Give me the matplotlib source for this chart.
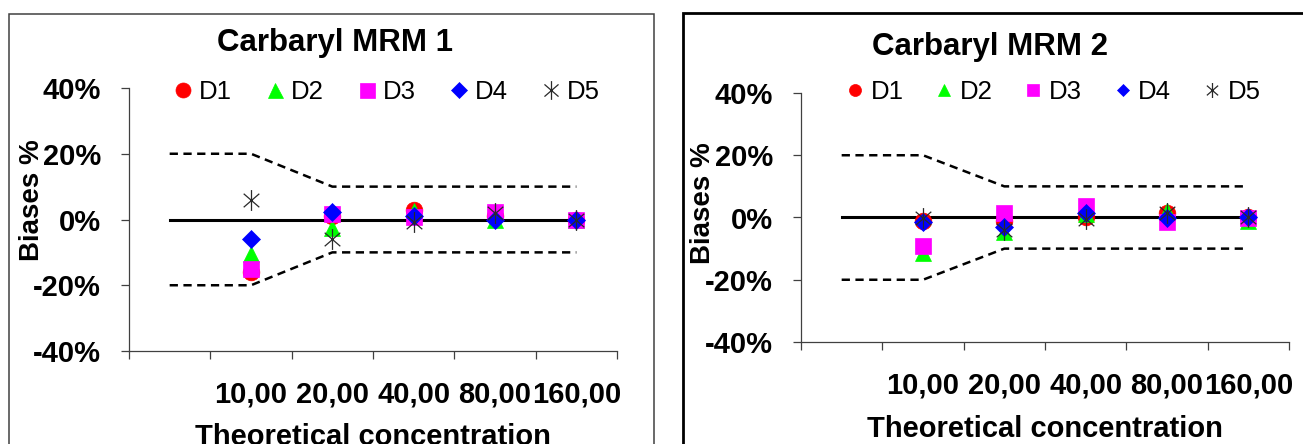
import matplotlib
matplotlib.use("Agg")
import numpy as np
import matplotlib.pyplot as plt
from matplotlib.path import Path
from matplotlib.patches import Rectangle

plt.rcParams['font.family'] = ['Liberation Sans', 'DejaVu Sans']

# ---------------- data ----------------
categories = ["", "10,00", "20,00", "40,00", "80,00", "160,00"]
series_names = ["D1", "D2", "D3", "D4", "D5"]
y_ticks = [-40, -20, 0, 20, 40]
y_tick_labels = ["-40%", "-20%", "0%", "20%", "40%"]
upper_limit = [20, 20, 10, 10, 10, 10]
lower_limit = [-20, -20, -10, -10, -10, -10]
zero_line = [0, 0, 0, 0, 0, 0]

titles = ["Carbaryl MRM 1", "Carbaryl MRM 2"]

mrm1_d1 = [np.nan, -16.0, 1.0, 3.0, 1.0, 0.0]
mrm1_d2 = [np.nan, -10.5, -2.5, 2.5, 0.0, 0.0]
mrm1_d3 = [np.nan, -15.0, 1.7, 0.8, 2.2, -0.3]
mrm1_d4 = [np.nan, -6.0, 2.2, 1.2, -0.3, 0.0]
mrm1_d5 = [np.nan, 6.0, -6.0, -0.8, 2.0, 0.0]

mrm2_d1 = [np.nan, -1.0, -1.0, 0.0, 1.3, 0.0]
mrm2_d2 = [np.nan, -11.5, -4.5, 1.0, 2.0, -1.0]
mrm2_d3 = [np.nan, -9.2, 1.6, 3.6, -1.5, -0.3]
mrm2_d4 = [np.nan, -1.5, -3.2, 1.4, -0.2, 0.0]
mrm2_d5 = [np.nan, -0.3, -3.9, -0.6, 1.4, 0.0]

panels = [
    [mrm1_d1, mrm1_d2, mrm1_d3, mrm1_d4, mrm1_d5],
    [mrm2_d1, mrm2_d2, mrm2_d3, mrm2_d4, mrm2_d5],
]

# ---------------- styles ----------------
star = Path([(0, -1), (0, 1), (-0.75, -0.65), (0.75, 0.65), (-0.75, 0.65), (0.75, -0.65)],
            [Path.MOVETO, Path.LINETO, Path.MOVETO, Path.LINETO, Path.MOVETO, Path.LINETO])
styles = [
    dict(marker='o', color='#FF0000', ms=12),
    dict(marker='^', color='#00FF00', ms=12),
    dict(marker='s', color='#FF00FF', ms=12),
    dict(marker='D', color='#0000FF', ms=9),
    dict(marker=star, color='#2a2a2a', ms=15),
]

W, H = 1303, 444
fig = plt.figure(figsize=(W / 100, H / 100), dpi=100)

def px_rect(x0, y0, x1, y1, lw, col):
    r = Rectangle((x0 / W, 1 - y1 / H), (x1 - x0) / W, (y1 - y0) / H,
                  transform=fig.transFigure, fill=False, lw=lw, ec=col, zorder=0)
    fig.add_artist(r)

px_rect(9, 14, 654, 470, 1.1, '#404040')
px_rect(683, 13, 1320, 470, 2.0, '#000000')

axes_px = [(129, 88, 617, 351), (801, 93, 1289, 342)]
title_pos = [(335, 43), (990, 47)]
ylabel_pos = [(45, 200), (716, 203)]
xlabel_top = [423, 415]
legend_y = [92, 92]
legend_colsp = [1.30, 1.19]
legend_mscale = [0.9, 0.72]

x = np.arange(len(categories))
TICK_FS = 21

for i, (l, t, r, b) in enumerate(axes_px):
    ax = fig.add_axes([l / W, 1 - b / H, (r - l) / W, (b - t) / H])
    ax.set_xlim(-0.5, len(categories) - 0.5)
    ax.set_ylim(-40, 40)

    ax.plot(x, upper_limit, color='black', lw=1.8, ls=(0, (3.3, 2.2)), zorder=2)
    ax.plot(x, lower_limit, color='black', lw=1.8, ls=(0, (3.3, 2.2)), zorder=2)
    ax.plot(x, zero_line, color='black', lw=2.2, zorder=2)

    for name, vals, st in zip(series_names, panels[i], styles):
        if st['marker'] is star:
            ax.plot(x, vals, ls='none', marker=star, ms=st['ms'], mfc='none',
                    mec=st['color'], mew=0.9, label=name, zorder=3)
        else:
            ax.plot(x, vals, ls='none', marker=st['marker'], ms=st['ms'],
                    mfc=st['color'], mec=st['color'], mew=0.5, label=name, zorder=3)

    for s in ['top', 'right']:
        ax.spines[s].set_visible(False)
    for s in ['left', 'bottom']:
        ax.spines[s].set_color('#404040')
        ax.spines[s].set_linewidth(0.9)

    ax.set_yticks(y_ticks)
    ax.set_yticklabels(y_tick_labels, fontsize=TICK_FS, fontweight='bold')
    ax.tick_params(axis='y', direction='out', length=6, width=0.9, color='#404040', pad=14)

    ax.set_xticks(np.arange(len(categories) + 1) - 0.5)
    ax.set_xticklabels([])
    ax.tick_params(axis='x', which='major', direction='out', length=6, width=0.9, color='#404040')
    ax.set_xticks(x, minor=True)
    ax.set_xticklabels(categories, minor=True, fontsize=TICK_FS, fontweight='bold')
    ax.tick_params(axis='x', which='minor', length=0, pad=21)

    ax.set_xlabel("Theoretical concentration", fontsize=21, fontweight='bold')
    ax.xaxis.set_label_coords(0.5, (b - xlabel_top[i]) / (b - t))
    ax.xaxis.label.set_va('top')

    ax.set_ylabel("Biases %", fontsize=20, fontweight='bold')
    ylx, yly = ylabel_pos[i]
    ax.yaxis.set_label_coords((ylx - l) / (r - l), (b - yly) / (b - t))

    ax.legend(loc='center left', ncol=5, frameon=False, fontsize=18.5,
              bbox_to_anchor=(0.0896, (b - legend_y[i]) / (b - t)),
              borderaxespad=0, borderpad=0, handlelength=0.8, handletextpad=0.2,
              columnspacing=legend_colsp[i], markerscale=legend_mscale[i])

    tx, ty = title_pos[i]
    fig.text(tx / W, 1 - ty / H, titles[i], fontsize=22.5, fontweight='bold',
             ha='center', va='center')

fig.savefig("out.png", dpi=100)
